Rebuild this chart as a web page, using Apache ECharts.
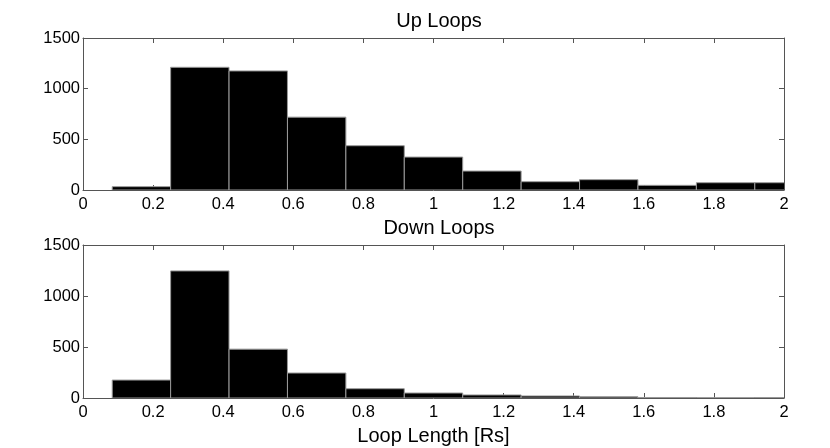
<!DOCTYPE html>
<html>
<head>
<meta charset="utf-8">
<script src="https://cdn.jsdelivr.net/npm/echarts@6/dist/echarts.min.js"></script>
<style>html,body{margin:0;padding:0;background:#fff}#c{width:830px;height:448px}</style>
</head>
<body>
<div id="c"></div>
<script>
// Histogram bin centres (MATLAB hist centres) and counts
const binCenters = [0.1667, 0.3333, 0.5, 0.6667, 0.8333, 1.0, 1.1667, 1.3333, 1.5, 1.6667, 1.8333, 2.0];
const upCounts   = [33, 1211, 1175, 719, 437, 325, 187, 82, 102, 46, 72, 72];
const downCounts = [176, 1246, 479, 245, 91, 49, 30, 20, 12, 5, 2, 4];
const panelTitles = ['Up Loops', 'Down Loops'];
const xAxisName = 'Loop Length [Rs]';
const xTicks = [0, 0.2, 0.4, 0.6, 0.8, 1, 1.2, 1.4, 1.6, 1.8, 2];
const yTicks = [0, 500, 1000, 1500];

const FONT = "'Liberation Sans', Arial, Helvetica, sans-serif";
const binWidth = binCenters[1] - binCenters[0];
const axisColor = '#555';

const chart = echarts.init(document.getElementById('c'), null, {renderer: 'canvas'});

function xAx(grid, pos, labels, name) {
  return {
    gridIndex: grid, type: 'value', position: pos,
    min: xTicks[0], max: xTicks[xTicks.length - 1], interval: xTicks[1] - xTicks[0],
    axisLine: {show: true, onZero: false, lineStyle: {color: axisColor, width: 1}},
    axisTick: {show: true, inside: true, length: 5, lineStyle: {color: axisColor}},
    axisLabel: {show: labels, color: '#000', fontSize: 16.5, fontFamily: FONT, margin: 6, showMinLabel: true, showMaxLabel: true,
                formatter: v => String(+v.toFixed(1))},
    splitLine: {show: false},
    name: name || '', nameLocation: 'middle', nameGap: 28,
    nameTextStyle: {color: '#000', fontSize: 20, fontFamily: FONT}
  };
}
function yAx(grid, pos, labels) {
  return {
    gridIndex: grid, type: 'value', position: pos,
    min: yTicks[0], max: yTicks[yTicks.length - 1], interval: yTicks[1] - yTicks[0],
    axisLine: {show: true, onZero: false, lineStyle: {color: axisColor, width: 1}},
    axisTick: {show: true, inside: true, length: 5, lineStyle: {color: axisColor}},
    axisLabel: {show: labels, color: '#000', fontSize: 16.5, fontFamily: FONT, margin: 3, showMinLabel: true, showMaxLabel: true,
                formatter: v => String(v)},
    splitLine: {show: false}
  };
}

function renderBar(params, api) {
  const c = api.value(0), v = api.value(1);
  const p0 = api.coord([c - binWidth / 2, 0]);
  const p1 = api.coord([c + binWidth / 2, v]);
  return {
    type: 'rect',
    shape: {x: p0[0], y: p1[1], width: p1[0] - p0[0], height: p0[1] - p1[1]},
    style: {fill: '#000', stroke: '#999', lineWidth: 1}
  };
}

const option = {
  backgroundColor: '#fff',
  animation: false,
  title: [
    {text: panelTitles[0], left: 434, top: 6, textAlign: 'center', textStyle: {color: '#000', fontSize: 20, fontWeight: 'normal', fontFamily: FONT}},
    {text: panelTitles[1], left: 434, top: 213, textAlign: 'center', textStyle: {color: '#000', fontSize: 20, fontWeight: 'normal', fontFamily: FONT}}
  ],
  grid: [
    {left: 83, top: 38, width: 701, height: 152, containLabel: false},
    {left: 83, top: 245, width: 701, height: 153, containLabel: false}
  ],
  xAxis: [xAx(0, 'bottom', true), xAx(0, 'top', false), xAx(1, 'bottom', true, xAxisName), xAx(1, 'top', false)],
  yAxis: [yAx(0, 'left', true), yAx(0, 'right', false), yAx(1, 'left', true), yAx(1, 'right', false)],
  series: [
    {type: 'custom', xAxisIndex: 0, yAxisIndex: 0, clip: true, renderItem: renderBar,
     data: binCenters.map((c, i) => [c, upCounts[i]])},
    {type: 'custom', xAxisIndex: 2, yAxisIndex: 2, clip: true, renderItem: renderBar,
     data: binCenters.map((c, i) => [c, downCounts[i]])}
  ]
};
chart.setOption(option);
</script>
</body>
</html>
